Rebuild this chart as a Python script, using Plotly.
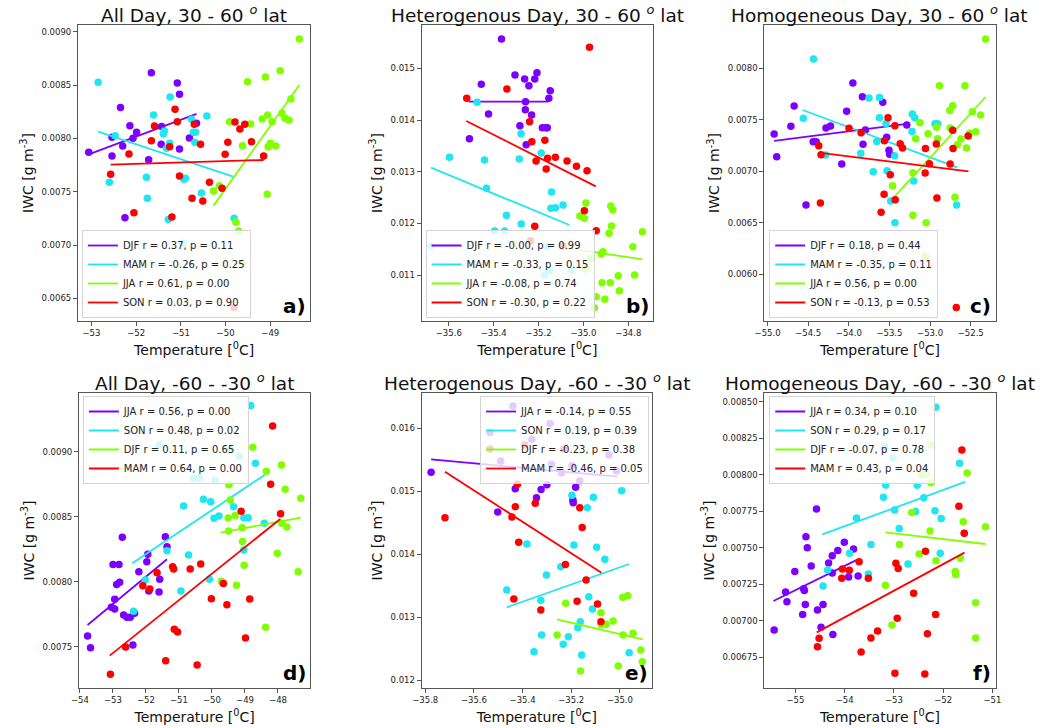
import plotly.graph_objects as go

# ---------------- data ----------------
colors = ["#7b00ff", "#1fe6f0", "#80ff00", "#ff0000"]
seasons_top = ["DJF", "MAM", "JJA", "SON"]
seasons_bot = ["JJA", "SON", "DJF", "MAM"]

titles = [
    "All Day, 30 - 60 <sup><i>o</i></sup> lat",
    "Heterogenous Day, 30 - 60 <sup><i>o</i></sup> lat",
    "Homogeneous Day, 30 - 60 <sup><i>o</i></sup> lat",
    "All Day, -60 - -30 <sup><i>o</i></sup> lat",
    "Heterogenous Day, -60 - -30 <sup><i>o</i></sup> lat",
    "Homogeneous Day, -60 - -30 <sup><i>o</i></sup> lat",
]
panel_labels = ["a)", "b)", "c)", "d)", "e)", "f)"]

# ---- panel a (order: DJF, MAM, JJA, SON)
a_djf_t = [-51.66, -51.08, -51.03, -52.35, -52.14, -51.99, -52.07, -52.54, -52.30, -53.06, -52.54, -51.72, -51.44, -51.43, -51.03, -50.81, -50.65, -52.25]
a_djf_iwc = [0.008616, 0.008519, 0.008413, 0.008288, 0.008119, 0.008056, 0.008000, 0.008010, 0.007928, 0.007869, 0.007834, 0.007800, 0.007944, 0.008110, 0.007900, 0.008003, 0.008141, 0.007256]
a_mam_t = [-52.85, -52.47, -52.60, -51.61, -51.24, -51.37, -51.39, -51.25, -51.32, -50.76, -50.72, -50.67, -50.69, -50.42, -51.77, -51.75, -50.93, -50.90, -51.28, -50.96, -50.54, -49.81]
a_mam_iwc = [0.008525, 0.008025, 0.007588, 0.008219, 0.008388, 0.008069, 0.008040, 0.007953, 0.007906, 0.008178, 0.008056, 0.008056, 0.007963, 0.008209, 0.007634, 0.007438, 0.007616, 0.007625, 0.007238, 0.007016, 0.007488, 0.007250]
a_jja_t = [-50.27, -50.14, -49.91, -49.51, -49.62, -49.44, -49.77, -49.71, -49.62, -49.18, -49.11, -49.06, -48.96, -49.05, -49.00, -48.88, -49.07, -48.78, -48.74, -48.67, -48.58, -48.54, -48.35]
a_jja_iwc = [0.007506, 0.007556, 0.008156, 0.008531, 0.007931, 0.008134, 0.007213, 0.007131, 0.006834, 0.008181, 0.008575, 0.008219, 0.008156, 0.007922, 0.007953, 0.007928, 0.007475, 0.008634, 0.008234, 0.008188, 0.008169, 0.008369, 0.008931]
a_son_t = [-52.57, -52.16, -52.05, -51.59, -51.66, -51.13, -51.08, -51.25, -50.70, -50.56, -51.03, -51.20, -50.75, -50.51, -50.36, -50.08, -50.01, -49.95, -49.79, -49.68, -49.57, -49.42, -49.15, -49.81]
a_son_iwc = [0.007663, 0.007853, 0.007303, 0.008116, 0.007978, 0.008272, 0.008156, 0.007922, 0.008131, 0.007944, 0.007647, 0.007263, 0.007438, 0.007413, 0.007588, 0.007531, 0.007850, 0.007963, 0.008153, 0.008088, 0.008131, 0.007969, 0.007834, 0.006413]
a_fit_t = [[-53.06, -50.65], [-52.85, -49.83], [-50.27, -48.35], [-52.57, -49.15]]
a_fit_iwc = [[0.007850, 0.008230], [0.008063, 0.007641], [0.007369, 0.008500], [0.007753, 0.007797]]
a_r = [0.37, -0.26, 0.61, 0.03]
a_p = [0.11, 0.25, 0.00, 0.90]

# ---- panel b (order: DJF, MAM, JJA, SON)
b_djf_t = [-35.365, -35.305, -35.262, -35.243, -35.217, -35.207, -35.455, -35.148, -35.154, -35.258, -35.259, -35.423, -35.231, -35.283, -35.183, -35.167, -35.161, -35.508, -35.255]
b_djf_iwc = [0.015568, 0.014871, 0.014794, 0.014665, 0.014794, 0.014916, 0.014690, 0.014568, 0.014419, 0.014355, 0.014200, 0.014116, 0.014097, 0.013890, 0.013852, 0.013852, 0.013852, 0.013639, 0.013523]
b_mam_t = [-35.679, -35.597, -35.474, -35.441, -35.432, -35.286, -35.278, -35.188, -35.142, -35.145, -35.125, -35.091, -35.396, -35.351, -35.343, -35.277, -35.161, -35.174, -35.151, -35.054]
b_mam_iwc = [0.011561, 0.013277, 0.014342, 0.013226, 0.012677, 0.013245, 0.013735, 0.013361, 0.012606, 0.012290, 0.012303, 0.012355, 0.011852, 0.011852, 0.012155, 0.011987, 0.011548, 0.011000, 0.011077, 0.011097]
b_jja_t = [-35.016, -34.996, -34.989, -34.878, -34.869, -34.875, -34.886, -34.737, -34.780, -34.964, -34.921, -34.913, -34.992, -34.772, -34.845, -34.917, -34.880, -34.840, -34.943, -34.905, -34.951]
b_jja_iwc = [0.012142, 0.012097, 0.012394, 0.012335, 0.012258, 0.011948, 0.011806, 0.011839, 0.011548, 0.011323, 0.011406, 0.011452, 0.011116, 0.011000, 0.010987, 0.010852, 0.010852, 0.010697, 0.010581, 0.010529, 0.010368]
b_son_t = [-35.520, -35.341, -34.973, -35.240, -35.230, -35.172, -35.211, -35.160, -35.166, -35.125, -35.073, -35.031, -34.984, -34.996, -34.943, -35.217, -35.236, -35.093]
b_son_iwc = [0.014419, 0.014600, 0.015406, 0.013968, 0.013581, 0.013606, 0.013206, 0.013258, 0.013052, 0.013277, 0.013206, 0.013103, 0.013019, 0.012245, 0.011858, 0.011942, 0.011665, 0.011561]
b_fit_t = [[-35.511, -35.157], [-35.679, -35.063], [-35.016, -34.737], [-35.522, -34.945]]
b_fit_iwc = [[0.014355, 0.014355], [0.013077, 0.011968], [0.011484, 0.011303], [0.013981, 0.012716]]
b_r = [-0.0, -0.33, -0.08, -0.30]
b_p = [0.99, 0.15, 0.74, 0.22]

# ---- panel c (order: DJF, MAM, JJA, SON)
c_djf_t = [-54.919, -54.887, -54.673, -54.713, -54.527, -54.439, -54.402, -54.281, -54.225, -54.087, -54.027, -53.950, -53.833, -53.796, -53.825, -53.582, -53.534, -53.506, -53.498, -53.287]
c_djf_iwc = [0.007362, 0.007142, 0.007634, 0.007437, 0.006673, 0.007288, 0.007288, 0.007421, 0.007440, 0.007071, 0.007583, 0.007858, 0.007725, 0.007401, 0.007262, 0.007670, 0.007330, 0.007204, 0.007165, 0.007450]
c_mam_t = [-54.435, -54.560, -54.285, -53.853, -53.752, -53.623, -53.623, -53.656, -53.700, -53.530, -53.542, -53.437, -53.485, -53.433, -53.219, -53.190, -53.222, -53.202, -52.940, -52.908, -52.673]
c_mam_iwc = [0.008091, 0.007515, 0.007159, 0.007175, 0.007712, 0.007718, 0.007521, 0.007291, 0.006997, 0.007007, 0.007463, 0.007152, 0.006712, 0.006502, 0.007557, 0.007521, 0.007388, 0.006906, 0.007463, 0.007463, 0.006673]
c_jja_t = [-53.461, -53.211, -53.211, -53.178, -53.126, -53.057, -53.049, -53.025, -52.920, -52.908, -52.884, -52.758, -52.722, -52.754, -52.665, -52.621, -52.694, -52.572, -52.552, -52.512, -52.480, -52.439, -52.379, -52.318]
c_jja_iwc = [0.006861, 0.006987, 0.006573, 0.007317, 0.007473, 0.006175, 0.006502, 0.007366, 0.007427, 0.007317, 0.007832, 0.007592, 0.007638, 0.007421, 0.007259, 0.007314, 0.006748, 0.007832, 0.007227, 0.007369, 0.007579, 0.007385, 0.007547, 0.008285]
c_son_t = [-54.370, -54.342, -54.350, -53.998, -53.849, -53.518, -53.433, -53.562, -53.368, -53.340, -53.490, -53.566, -53.603, -53.429, -53.057, -53.061, -53.009, -52.924, -52.916, -52.754, -52.722, -52.718, -52.532, -52.678]
c_son_iwc = [0.007249, 0.007162, 0.006693, 0.007418, 0.007375, 0.007521, 0.007443, 0.007298, 0.007269, 0.007227, 0.006968, 0.006777, 0.006602, 0.006725, 0.007223, 0.006984, 0.007074, 0.007265, 0.006741, 0.007071, 0.007398, 0.007223, 0.007343, 0.005677]
c_fit_t = [[-54.919, -53.287], [-54.568, -52.669], [-53.457, -52.318], [-54.370, -52.528]]
c_fit_iwc = [[0.007295, 0.007460], [0.007596, 0.007039], [0.006738, 0.007722], [0.007181, 0.007000]]
c_r = [0.18, -0.35, 0.56, -0.13]
c_p = [0.44, 0.11, 0.00, 0.53]

# ---- panel d (order: JJA, SON, DJF, MAM)
d_jja_t = [-53.769, -53.679, -53.047, -52.947, -52.947, -52.997, -52.816, -52.887, -52.796, -52.716, -52.676, -52.576, -52.475, -52.345, -52.395, -52.215, -51.974, -51.944, -51.914, -51.583, -51.603, -51.412, -51.362]
d_jja_iwc = [0.007582, 0.007492, 0.007803, 0.007790, 0.007864, 0.008131, 0.008131, 0.007979, 0.007995, 0.008341, 0.007744, 0.007726, 0.007726, 0.007756, 0.007513, 0.008077, 0.008154, 0.008210, 0.007928, 0.008018, 0.007920, 0.008346, 0.008269]
d_son_t = [-52.375, -52.024, -51.362, -51.593, -50.860, -50.709, -50.940, -50.560, -50.379, -50.259, -50.038, -49.918, -49.938, -49.788, -50.078, -49.436, -49.176, -49.346, -49.035, -48.904, -49.035, -48.824, -48.684, -48.413]
d_son_iwc = [0.007772, 0.008013, 0.008238, 0.009051, 0.008582, 0.008205, 0.007928, 0.008795, 0.008797, 0.008633, 0.008615, 0.008782, 0.008487, 0.008505, 0.008018, 0.009013, 0.008967, 0.008577, 0.008492, 0.008492, 0.008244, 0.009354, 0.008910, 0.008449]
d_djf_t = [-49.717, -49.647, -49.486, -49.446, -49.506, -49.496, -49.296, -49.256, -49.085, -49.075, -49.025, -48.764, -48.353, -48.373, -48.022, -47.892, -47.882, -47.782, -47.731, -47.390, -47.310]
d_djf_iwc = [0.008003, 0.007987, 0.008746, 0.008628, 0.008490, 0.008390, 0.008508, 0.007972, 0.008415, 0.008308, 0.008126, 0.009033, 0.008849, 0.007649, 0.008218, 0.008897, 0.008449, 0.008710, 0.008420, 0.008077, 0.008641]
d_mam_t = [-53.077, -52.616, -52.094, -51.884, -51.663, -51.402, -51.192, -51.161, -51.141, -51.041, -50.660, -50.449, -50.339, -50.018, -49.657, -49.547, -49.116, -48.985, -48.855, -48.223, -48.163, -47.922]
d_mam_iwc = [0.007287, 0.007497, 0.007969, 0.007944, 0.008069, 0.007392, 0.008115, 0.008097, 0.007633, 0.007613, 0.008097, 0.007359, 0.008136, 0.007869, 0.007985, 0.007823, 0.008541, 0.007567, 0.007867, 0.008749, 0.009197, 0.008523]
d_fit_t = [[-53.769, -51.362], [-52.415, -48.403], [-49.737, -47.310], [-53.097, -47.932]]
d_fit_iwc = [[0.007667, 0.008172], [0.008141, 0.008821], [0.008377, 0.008492], [0.007431, 0.008482]]
d_r = [0.56, 0.48, 0.11, 0.64]
d_p = [0.00, 0.02, 0.65, 0.00]

# ---- panel e (order: JJA, SON, DJF, MAM)
e_jja_t = [-35.776, -35.534, -35.490, -35.502, -35.430, -35.343, -35.324, -35.300, -35.281, -35.240, -35.197, -35.182, -35.165, -35.193, -35.192, -35.014, -35.440, -35.287, -35.362, -35.045]
e_jja_iwc = [0.015301, 0.015936, 0.015481, 0.014670, 0.015041, 0.014898, 0.015030, 0.015105, 0.015428, 0.015295, 0.015407, 0.015062, 0.015168, 0.014856, 0.014819, 0.015322, 0.016355, 0.016079, 0.015825, 0.015576]
e_son_t = [-35.465, -35.382, -35.325, -35.302, -35.322, -35.353, -35.243, -35.233, -35.212, -35.197, -35.189, -35.173, -35.163, -35.157, -35.134, -35.128, -35.113, -35.109, -35.096, -35.062, -34.993, -34.962]
e_son_iwc = [0.013430, 0.014162, 0.013266, 0.013669, 0.012715, 0.012450, 0.013801, 0.012567, 0.012689, 0.014935, 0.014146, 0.012832, 0.012927, 0.012397, 0.014739, 0.013325, 0.013128, 0.014903, 0.014109, 0.013918, 0.015009, 0.012434]
e_djf_t = [-35.258, -35.223, -35.162, -35.078, -35.077, -35.057, -35.028, -34.988, -34.968, -34.987, -34.946, -35.007, -34.914, -34.908]
e_djf_iwc = [0.012715, 0.013219, 0.012143, 0.013070, 0.012879, 0.012885, 0.012938, 0.013314, 0.013340, 0.012715, 0.012742, 0.012223, 0.012477, 0.012291]
e_mam_t = [-35.719, -35.534, -35.391, -35.231, -35.421, -35.430, -35.444, -35.416, -35.436, -35.348, -35.325, -35.224, -35.176, -35.165, -35.155, -35.139, -35.092, -35.078]
e_mam_iwc = [0.014580, 0.015672, 0.015735, 0.015672, 0.015110, 0.014755, 0.014591, 0.014188, 0.013287, 0.014808, 0.013113, 0.013838, 0.013250, 0.014739, 0.014426, 0.013590, 0.013208, 0.012927]
e_fit_t = [[-35.776, -35.011], [-35.465, -34.962], [-35.259, -34.907], [-35.719, -35.076]]
e_fit_iwc = [[0.015507, 0.015232], [0.013155, 0.013844], [0.012964, 0.012646], [0.015311, 0.013706]]
e_r = [-0.14, 0.19, -0.23, -0.46]
e_p = [0.55, 0.39, 0.38, 0.05]

# ---- panel f (order: JJA, SON, DJF, MAM)
f_jja_t = [-55.433, -55.200, -55.173, -55.013, -54.833, -54.820, -54.853, -54.800, -54.787, -54.760, -54.680, -54.573, -54.553, -54.480, -54.440, -54.327, -54.253, -54.253, -54.140, -54.240, -54.007, -53.920, -53.820, -53.727]
f_jja_iwc = [0.006936, 0.007196, 0.007130, 0.007336, 0.007219, 0.007206, 0.007043, 0.007110, 0.007575, 0.007500, 0.007374, 0.007765, 0.007073, 0.006955, 0.007110, 0.007395, 0.007445, 0.007327, 0.007480, 0.006906, 0.007537, 0.007299, 0.007491, 0.007306]
f_son_t = [-54.440, -54.347, -53.900, -53.760, -53.520, -53.467, -53.213, -53.167, -53.020, -52.987, -52.893, -52.713, -52.560, -52.533, -52.527, -52.393, -52.167, -52.147, -52.060, -52.040, -51.667, -51.567, -53.187]
f_son_iwc = [0.007237, 0.007347, 0.007461, 0.007703, 0.007320, 0.007521, 0.007845, 0.007929, 0.008112, 0.007758, 0.007632, 0.007388, 0.007747, 0.008158, 0.007927, 0.007842, 0.007753, 0.008461, 0.007461, 0.007699, 0.008078, 0.007598, 0.008192]
f_djf_t = [-53.173, -53.040, -52.887, -52.640, -52.487, -52.433, -52.340, -52.247, -52.267, -52.247, -52.147, -51.753, -51.747, -51.653, -51.593, -51.513, -51.340, -51.340, -51.140]
f_djf_iwc = [0.007242, 0.006970, 0.007521, 0.007740, 0.007457, 0.008000, 0.008002, 0.007945, 0.007614, 0.008203, 0.007411, 0.007336, 0.007317, 0.007427, 0.007678, 0.008011, 0.007123, 0.006881, 0.007644]
f_mam_t = [-54.553, -54.520, -54.060, -54.047, -53.907, -53.707, -53.520, -53.667, -53.467, -53.333, -52.980, -52.960, -52.913, -52.933, -52.600, -52.373, -52.320, -52.360, -52.153, -51.680, -51.620, -51.573]
f_mam_iwc = [0.006822, 0.006879, 0.007290, 0.007354, 0.007345, 0.007404, 0.007290, 0.006785, 0.006881, 0.006929, 0.006640, 0.007393, 0.007358, 0.007016, 0.007187, 0.006635, 0.006911, 0.007475, 0.007043, 0.007783, 0.008169, 0.007598]
f_fit_t = [[-55.447, -53.753], [-54.453, -51.553], [-53.173, -51.140], [-54.567, -51.567]]
f_fit_iwc = [[0.007135, 0.007416], [0.007591, 0.007950], [0.007605, 0.007525], [0.006920, 0.007466]]
f_r = [0.34, 0.29, -0.07, 0.43]
f_p = [0.10, 0.17, 0.78, 0.04]

# axis ranges and ticks
x_ranges = [[-53.301, -48.105], [-35.721, -34.690], [-55.040, -52.193],
            [-54.03, -47.02], [-35.815, -34.868], [-55.633, -50.933]]
y_ranges = [[0.0062875, 0.0090625], [0.01011, 0.015839], [0.005547, 0.008421],
            [0.007182, 0.009451], [0.011873, 0.016562], [0.006539, 0.008559]]
x_dtick = [1, 0.2, 0.5, 1, 0.2, 1]
x_fmt = ["d", ".1f", ".1f", "d", ".1f", "d"]
y_dtick = [0.0005, 0.001, 0.0005, 0.0005, 0.001, 0.00025]
y_fmt = [".4f", ".3f", ".4f", ".4f", ".3f", ".5f"]

# ---------------- figure ----------------
W, H = 1047, 728
FONT = "DejaVu Sans"

panels = [
    (seasons_top, [(a_djf_t, a_djf_iwc), (a_mam_t, a_mam_iwc), (a_jja_t, a_jja_iwc), (a_son_t, a_son_iwc)], a_fit_t, a_fit_iwc, a_r, a_p),
    (seasons_top, [(b_djf_t, b_djf_iwc), (b_mam_t, b_mam_iwc), (b_jja_t, b_jja_iwc), (b_son_t, b_son_iwc)], b_fit_t, b_fit_iwc, b_r, b_p),
    (seasons_top, [(c_djf_t, c_djf_iwc), (c_mam_t, c_mam_iwc), (c_jja_t, c_jja_iwc), (c_son_t, c_son_iwc)], c_fit_t, c_fit_iwc, c_r, c_p),
    (seasons_bot, [(d_jja_t, d_jja_iwc), (d_son_t, d_son_iwc), (d_djf_t, d_djf_iwc), (d_mam_t, d_mam_iwc)], d_fit_t, d_fit_iwc, d_r, d_p),
    (seasons_bot, [(e_jja_t, e_jja_iwc), (e_son_t, e_son_iwc), (e_djf_t, e_djf_iwc), (e_mam_t, e_mam_iwc)], e_fit_t, e_fit_iwc, e_r, e_p),
    (seasons_bot, [(f_jja_t, f_jja_iwc), (f_son_t, f_son_iwc), (f_djf_t, f_djf_iwc), (f_mam_t, f_mam_iwc)], f_fit_t, f_fit_iwc, f_r, f_p),
]

# pixel layout of the axes boxes (left, right, top, bottom)
boxes = [(69, 305, 25, 321), (418, 653, 25, 321), (766, 1001, 25, 321),
         (70, 305, 393, 688), (418, 652, 393, 688), (766, 1001, 393, 688)]
# legend anchors (x px, y px, xanchor, yanchor)
legend_anchor = [(73, 318, "left", "bottom"), (422, 318, "left", "bottom"), (771, 318, "left", "bottom"),
                 (74, 396, "left", "top"), (649, 396, "right", "top"), (771, 396, "left", "top")]

fig = go.Figure()
layout = dict(width=W, height=H, margin=dict(l=0, r=0, t=0, b=0),
              paper_bgcolor="white", plot_bgcolor="white",
              font=dict(family=FONT, size=12, color="#222"), showlegend=True)
annotations = []

for i, (seasons, series, fit_t, fit_iwc, rr, pp) in enumerate(panels):
    n = i + 1
    xa = "x" if n == 1 else f"x{n}"
    ya = "y" if n == 1 else f"y{n}"
    lg = "legend" if n == 1 else f"legend{n}"
    for k, (tt, vv) in enumerate(series):
        fig.add_trace(go.Scatter(x=tt, y=vv, mode="markers", xaxis=xa, yaxis=ya,
                                 marker=dict(color=colors[k], size=7.5, line=dict(width=0)),
                                 showlegend=False, hoverinfo="skip"))
        fig.add_trace(go.Scatter(x=fit_t[k], y=fit_iwc[k], mode="lines", xaxis=xa, yaxis=ya,
                                 line=dict(color=colors[k], width=1.8),
                                 name=f"{seasons[k]} r = {rr[k]:.2f}, p = {pp[k]:.2f}",
                                 legend=lg, showlegend=True))
    l, r, t, b = boxes[i]
    axcommon = dict(showline=True, mirror=True, linecolor="#555", linewidth=1,
                    showgrid=False, zeroline=False, ticks="outside", ticklen=4,
                    tickcolor="#555", tickfont=dict(size=8.5, family=FONT, color="#222"))
    layout["xaxis" if n == 1 else f"xaxis{n}"] = dict(
        domain=[l / W, r / W], anchor=ya, range=x_ranges[i], dtick=x_dtick[i],
        tick0=0, tickformat=x_fmt[i],
        title=dict(text="Temperature [<sup>0</sup>C]", font=dict(size=14, family=FONT, color="#111"), standoff=7),
        **axcommon)
    layout["yaxis" if n == 1 else f"yaxis{n}"] = dict(
        domain=[1 - b / H, 1 - t / H], anchor=xa, range=y_ranges[i], dtick=y_dtick[i],
        tick0=0, tickformat=y_fmt[i],
        title=dict(text="IWC [g m<sup>-3</sup>]", font=dict(size=14, family=FONT, color="#111"), standoff=4),
        **axcommon)
    lx, ly, lxa, lya = legend_anchor[i]
    layout[lg] = dict(x=lx / W, y=1 - ly / H, xanchor=lxa, yanchor=lya, xref="paper", yref="paper",
                      bgcolor="rgba(255,255,255,0.8)", bordercolor="#d4d4d4", borderwidth=1,
                      font=dict(size=10, family=FONT, color="#222"), itemwidth=30,
                      tracegroupgap=0)
    annotations.append(dict(text=titles[i], xref="paper", yref="paper", x=(l + r) / 2 / W,
                            y=1 - t / H, xanchor="center", yanchor="bottom", yshift=-3,
                            showarrow=False, font=dict(size=18.5, family=FONT, color="#111")))
    annotations.append(dict(text=f"<b>{panel_labels[i]}</b>", xref=f"{xa} domain", yref=f"{ya} domain",
                            x=0.99, y=0.005, xanchor="right", yanchor="bottom", showarrow=False,
                            font=dict(size=20, family=FONT, color="#000")))

layout["annotations"] = annotations
fig.update_layout(**layout)
fig.write_html("out.html")
